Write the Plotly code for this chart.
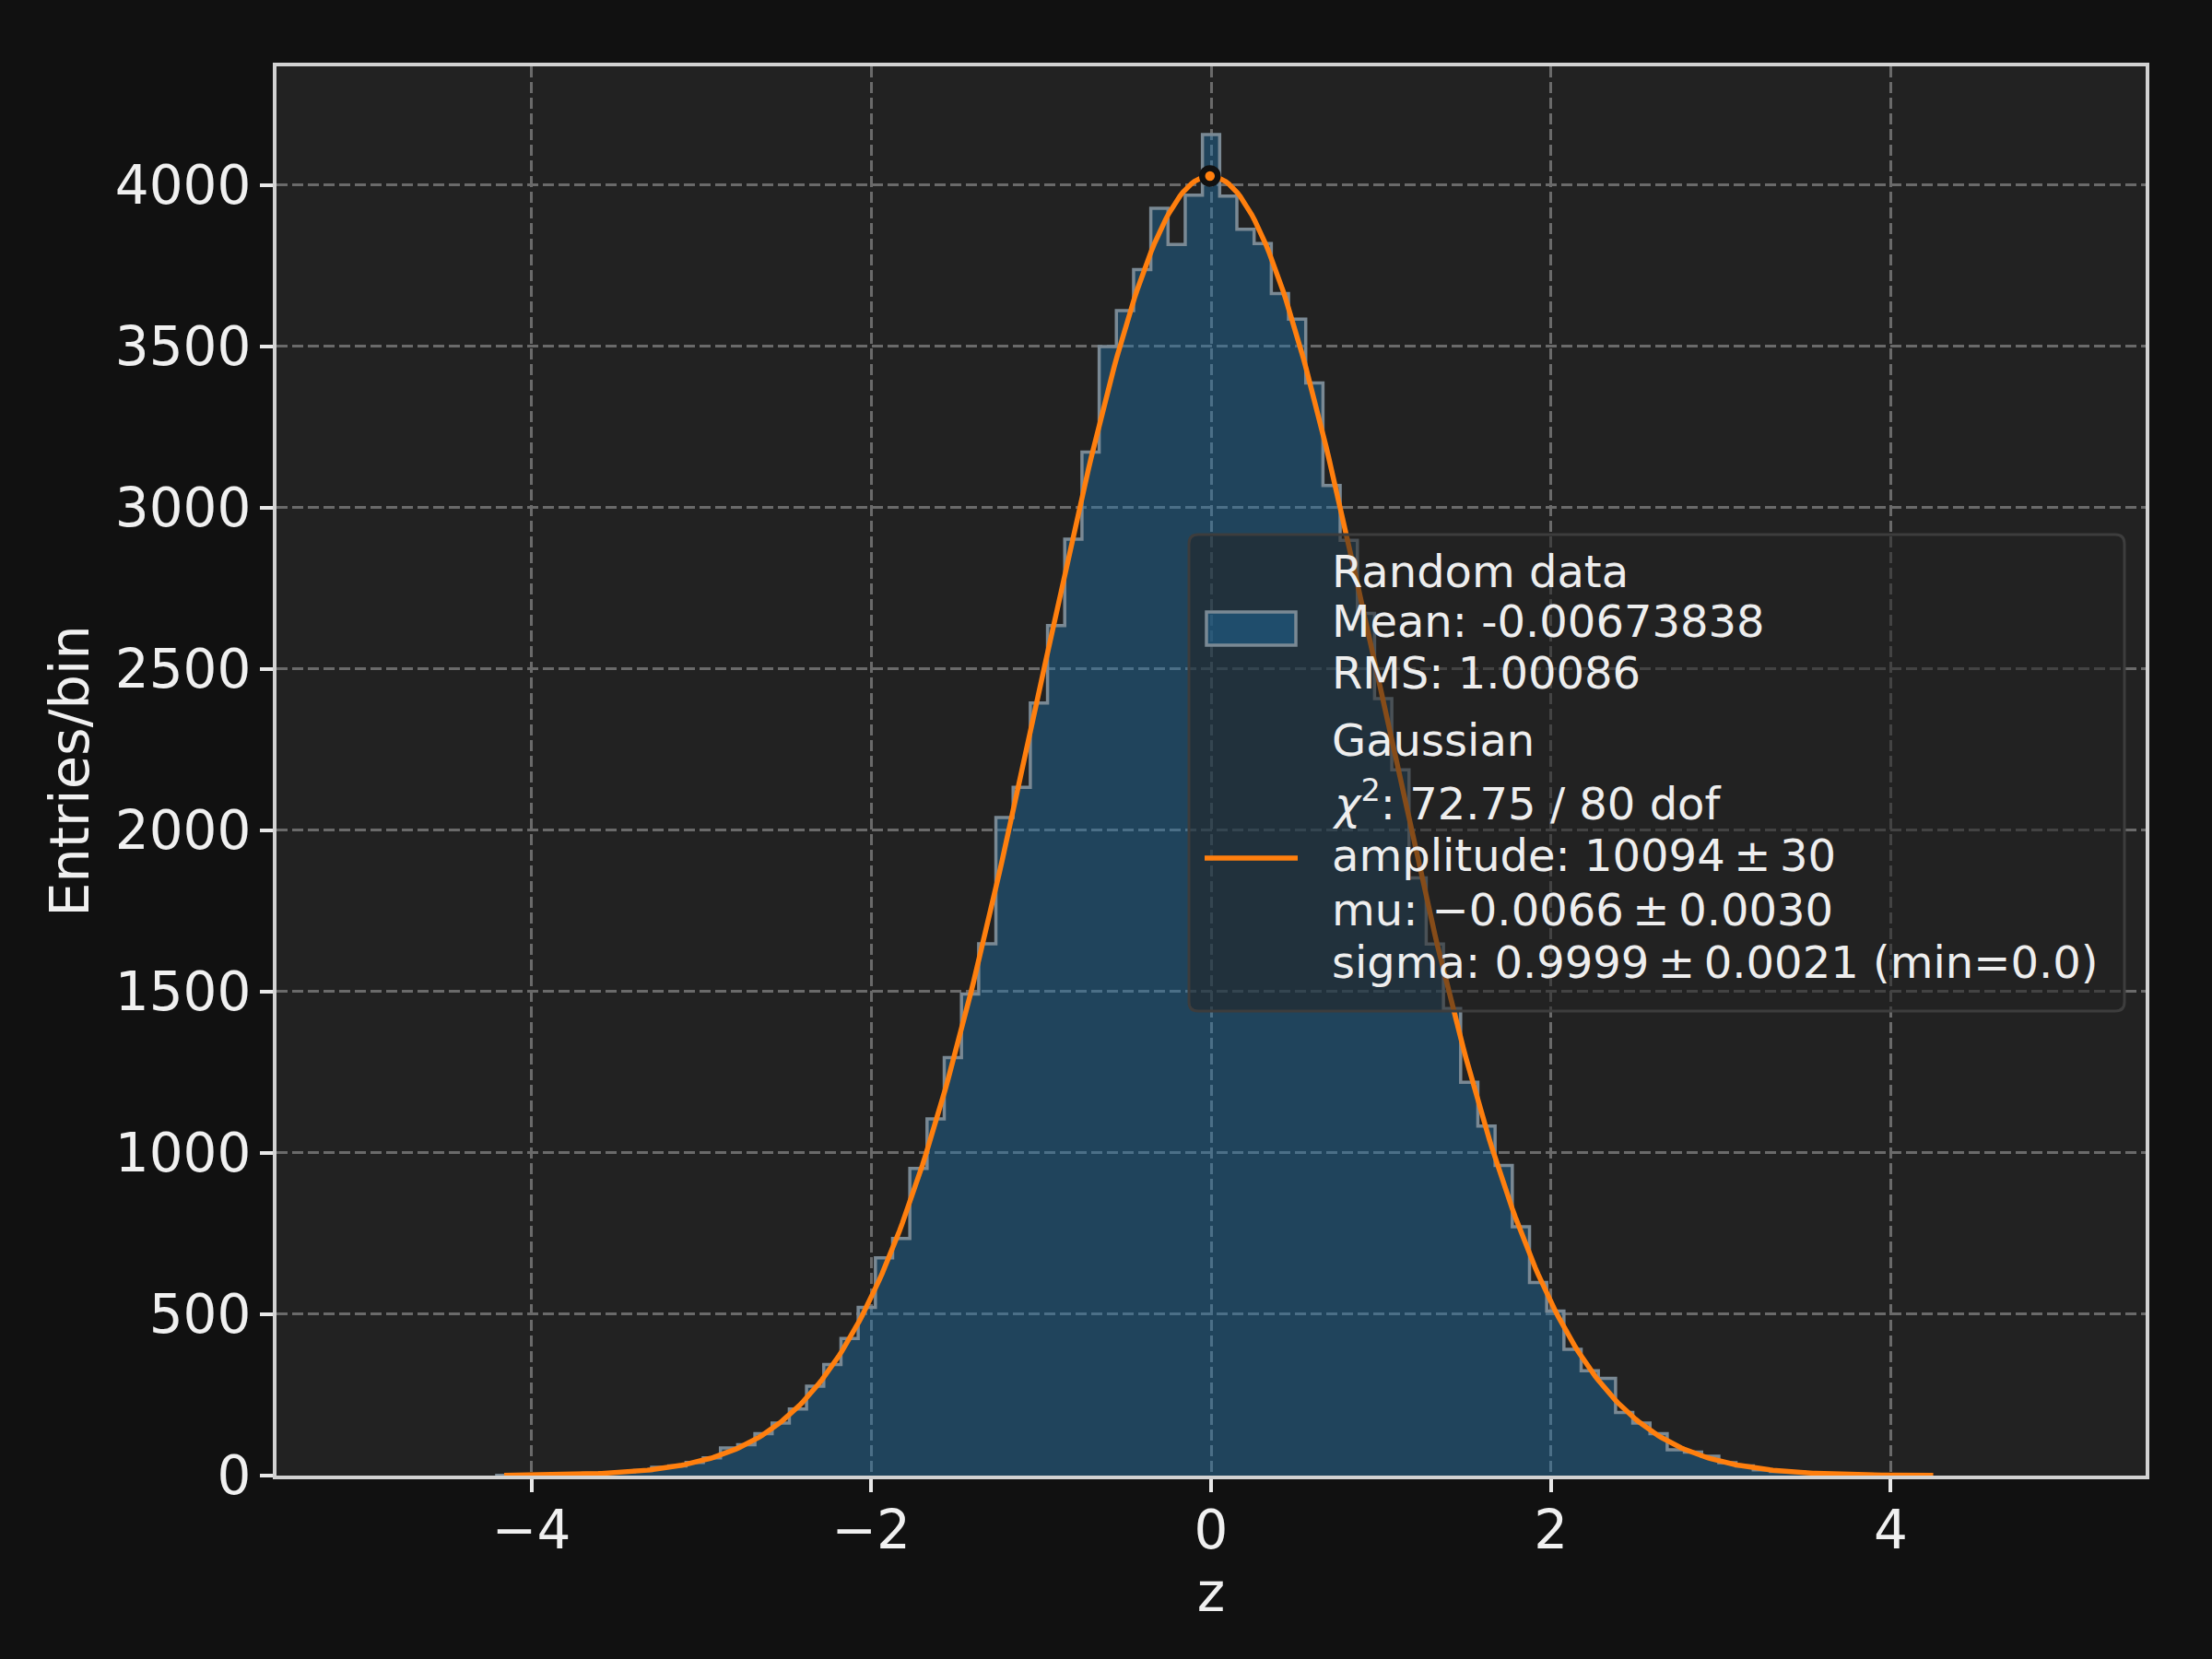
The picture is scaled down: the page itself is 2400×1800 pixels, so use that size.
"""
Histogram of random normal data with a Gaussian fit, dark style.
"""

import numpy as np
import plotly.graph_objects as go

# histogram: 83 equal bins, counts
HIST_MIN = -4.204
BIN_WIDTH = 0.1013
COUNTS = [
    1, 1, 2, 3, 5, 7, 9, 12, 16, 26,
    30, 41, 55, 86, 96, 130, 163, 206, 277, 344,
    425, 521, 675, 735, 952, 1105, 1295, 1492, 1648, 2039,
    2133, 2394, 2634, 2902, 3172, 3499, 3610, 3737, 3927, 3815,
    3968, 4156, 3965, 3862, 3818, 3663, 3584, 3386, 3068, 2898,
    2672, 2408, 2187, 1852, 1647, 1447, 1219, 1083, 961, 771,
    598, 510, 391, 325, 301, 196, 163, 130, 80, 73,
    60, 40, 30, 18, 13, 11, 8, 4, 4, 2,
    1, 1, 1,
]

# fit result shown in the legend
AMPLITUDE = 10094
MU = -0.0066
SIGMA = 0.9999
CURVE_X_MIN = -4.16
CURVE_X_MAX = 4.25

X_TICKS = [-4, -2, 0, 2, 4]
X_TICK_TEXT = ["\u22124", "\u22122", "0", "2", "4"]
Y_TICKS = [0, 500, 1000, 1500, 2000, 2500, 3000, 3500, 4000]

LEGEND_LINES = [
    "Random data",
    "Mean: -0.00673838",
    "RMS: 1.00086",
    "Gaussian",
    "<i>\u03c7</i><sup>2</sup>: 72.75 / 80 dof",
    "amplitude: 10094\u2009\u00b1\u200930",
    "mu: \u22120.0066\u2009\u00b1\u20090.0030",
    "sigma: 0.9999\u2009\u00b1\u20090.0021 (min=0.0)",
]
LEGEND_BASELINES = [637, 691, 747, 820, 886, 945, 1004, 1061]

W, H = 2400, 1800
L, R, T, B = 300, 72, 72, 199
FONT = "DejaVu Sans"
FILL = "rgba(31,119,180,0.4)"
EDGE = "rgb(122,137,148)"
ORANGE = "#ff7f0e"


def px(x):
    return (x - L) / (W - L - R)


def py(y):
    return (H - B - y) / (H - T - B)


counts = np.array(COUNTS, dtype=float)
edges = HIST_MIN + BIN_WIDTH * np.arange(len(counts) + 1)
step_x = np.concatenate([[edges[0]], edges[:-1], [edges[-1], edges[-1]]])
step_y = np.concatenate([[0], counts, [counts[-1], 0]])

xs = np.linspace(CURVE_X_MIN, CURVE_X_MAX, 500)
norm = AMPLITUDE / (np.sqrt(2 * np.pi) * SIGMA)
ys = norm * np.exp(-0.5 * ((xs - MU) / SIGMA) ** 2)

fig = go.Figure()
fig.add_trace(go.Scatter(
    x=step_x, y=step_y, mode="lines", line_shape="hv",
    fill="tozeroy", fillcolor=FILL,
    line=dict(color=EDGE, width=3.5),
    showlegend=False, hoverinfo="skip",
))
fig.add_trace(go.Scatter(
    x=xs, y=ys, mode="lines",
    line=dict(color=ORANGE, width=5.5),
    showlegend=False, hoverinfo="skip",
))
fig.add_trace(go.Scatter(
    x=[MU], y=[norm], mode="markers",
    marker=dict(size=17, color=ORANGE, line=dict(color="#111111", width=6.5)),
    showlegend=False, hoverinfo="skip",
))

# legend box drawn by hand so the layout follows the reference
x0, x1, y0, y1, r = 1290, 2305, 580, 1097, 10
path = (
    f"M {px(x0 + r)},{py(y0)} L {px(x1 - r)},{py(y0)} "
    f"Q {px(x1)},{py(y0)} {px(x1)},{py(y0 + r)} "
    f"L {px(x1)},{py(y1 - r)} Q {px(x1)},{py(y1)} {px(x1 - r)},{py(y1)} "
    f"L {px(x0 + r)},{py(y1)} Q {px(x0)},{py(y1)} {px(x0)},{py(y1 - r)} "
    f"L {px(x0)},{py(y0 + r)} Q {px(x0)},{py(y0)} {px(x0 + r)},{py(y0)} Z"
)
shapes = [
    dict(type="path", path=path, xref="paper", yref="paper", layer="above",
         fillcolor="rgba(34,34,34,0.55)", line=dict(color="#3d3d3d", width=3)),
    dict(type="rect", xref="paper", yref="paper", layer="above",
         x0=px(1309), x1=px(1406), y0=py(700), y1=py(664),
         fillcolor=FILL, line=dict(color=EDGE, width=3.5)),
    dict(type="line", xref="paper", yref="paper", layer="above",
         x0=px(1307), x1=px(1408), y0=py(931), y1=py(931),
         line=dict(color=ORANGE, width=5.5)),
]

annotations = [
    dict(text=t, x=px(1443), y=py(b - 17), xref="paper", yref="paper",
         xanchor="left", yanchor="middle", showarrow=False,
         font=dict(family=FONT, size=48, color="#eeeeee"))
    for t, b in zip(LEGEND_LINES, LEGEND_BASELINES)
]

axis_common = dict(
    showline=True, linecolor="#d2d2d2", linewidth=4, mirror=True,
    ticks="outside", ticklen=14, tickwidth=4, tickcolor="#e8e8e8",
    showgrid=True, gridcolor="#6a6a6a", gridwidth=3, griddash="12px,5px",
    zeroline=False, tickfont=dict(family=FONT, size=58, color="#f0f0f0"),
)

fig.update_layout(
    width=W, height=H, autosize=False,
    margin=dict(l=L, r=R, t=T, b=B),
    paper_bgcolor="#111111",
    plot_bgcolor="#222222",
    font=dict(family=FONT, color="#f0f0f0"),
    xaxis=dict(
        axis_common, range=[-5.5, 5.5],
        tickvals=X_TICKS, ticktext=X_TICK_TEXT, ticklabelstandoff=-9,
        title=dict(text="z", font=dict(family=FONT, size=58, color="#f0f0f0"),
                   standoff=11),
    ),
    yaxis=dict(
        axis_common, range=[0, 4367], tickvals=Y_TICKS, ticklabelstandoff=-2,
        title=dict(text="Entries/bin",
                   font=dict(family=FONT, size=59, color="#f0f0f0"),
                   standoff=10),
    ),
    shapes=shapes,
    annotations=annotations,
    showlegend=False,
)

fig.write_html(
    "out.html",
    config={"displayModeBar": False},
    post_script="document.body.style.margin='0';"
                "document.body.style.background='#111111';",
)
